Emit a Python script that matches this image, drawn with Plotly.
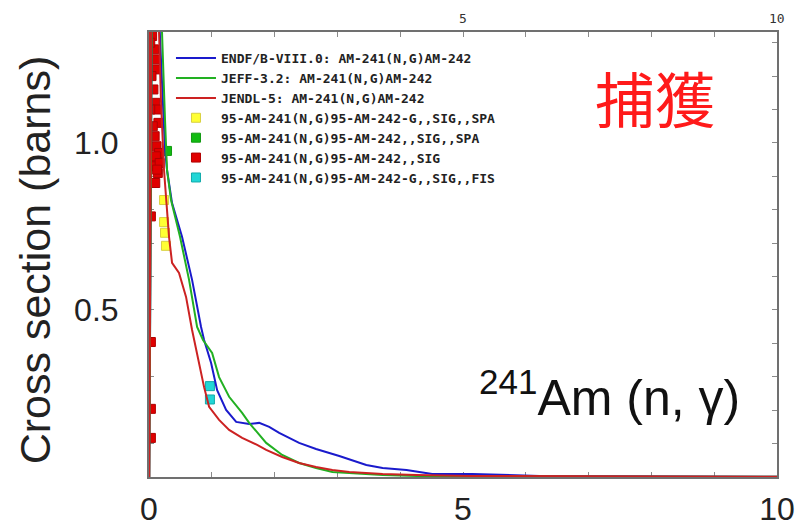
import plotly.graph_objects as go

# Evaluated capture cross sections, Am-241(n,g): incident energy (MeV) vs barns
endf_e = [0.0, 0.004, 0.008, 0.06, 0.12, 0.175, 0.22, 0.255, 0.287, 0.367,
          0.526, 0.686, 0.829, 0.877, 0.989, 1.085, 1.228, 1.388, 1.595, 1.754,
          1.914, 2.073, 2.39, 2.66, 3.03, 3.46, 3.72, 4.10, 4.51, 5.15,
          6.22, 10.0]
endf_xs = [3.0, 0.0, 2.6, 1.9, 1.55, 1.332, 1.13, 0.98, 0.919, 0.820,
           0.719, 0.590, 0.449, 0.410, 0.341, 0.260, 0.201, 0.165, 0.159, 0.162,
           0.150, 0.132, 0.102, 0.084, 0.063, 0.036, 0.027, 0.021, 0.009, 0.009,
           0.003, 0.001]

jeff_e = [0.0, 0.004, 0.008, 0.06, 0.14, 0.207, 0.255, 0.287, 0.351, 0.494,
          0.638, 0.766, 0.86, 1.005, 1.116, 1.276, 1.483, 1.595, 1.866, 2.121,
          2.39, 2.66, 2.92, 3.72, 4.26, 5.0, 10.0]
jeff_xs = [3.0, 0.0, 2.6, 1.9, 1.55, 1.332, 1.069, 0.919, 0.829, 0.719,
           0.590, 0.449, 0.41, 0.371, 0.299, 0.240, 0.192, 0.162, 0.102, 0.066,
           0.042, 0.027, 0.015, 0.006, 0.003, 0.002, 0.001]

jendl_e = [0.0, 0.004, 0.008, 0.05, 0.10, 0.16, 0.19, 0.239, 0.319, 0.367,
           0.478, 0.590, 0.686, 0.718, 0.797, 0.877, 0.957, 1.116, 1.276, 1.483,
           1.722, 1.866, 2.121, 2.39, 2.66, 2.92, 3.19, 3.72, 4.26, 5.10,
           10.0]
jendl_xs = [3.0, 0.0, 2.6, 1.9, 1.55, 1.332, 1.13, 0.919, 0.719, 0.641,
            0.611, 0.539, 0.440, 0.410, 0.341, 0.269, 0.210, 0.171, 0.141, 0.117,
            0.096, 0.081, 0.060, 0.042, 0.030, 0.021, 0.015, 0.009, 0.006, 0.003,
            0.001]

# Experimental points (EXFOR)
spa_g_e = [0.24, 0.24, 0.255, 0.27]
spa_g_xs = [0.829, 0.763, 0.731, 0.692]

spa_e = [0.287]
spa_xs = [0.976]

sig_e = [0.03, 0.05, 0.08, 0.10, 0.12, 0.04, 0.07, 0.10, 0.13, 0.15,
         0.06, 0.09, 0.12, 0.16, 0.05, 0.08, 0.11, 0.14, 0.17, 0.10,
         0.13, 0.03, 0.03, 0.03, 0.03, 0.02, 0.06, 0.02]
sig_xs = [1.40, 1.32, 1.28, 1.25, 1.22, 1.20, 1.16, 1.12, 1.10, 1.06,
          1.05, 1.02, 0.99, 0.97, 0.95, 0.93, 0.96, 0.91, 0.94, 0.88,
          0.92, 0.78, 0.404, 0.204, 0.117, 1.30, 1.36, 1.10]

fis_e = [0.97, 0.97]
fis_xs = [0.272, 0.232]

lib_names = ["ENDF/B-VIII.0: AM-241(N,G)AM-242",
             "JEFF-3.2: AM-241(N,G)AM-242",
             "JENDL-5: AM-241(N,G)AM-242"]
exp_names = ["95-AM-241(N,G)95-AM-242-G,,SIG,,SPA",
             "95-AM-241(N,G)95-AM-242,,SIG,,SPA",
             "95-AM-241(N,G)95-AM-242,,SIG",
             "95-AM-241(N,G)95-AM-242-G,,SIG,,FIS"]

x_tick_vals = [0, 5, 10]
x_tick_text = ["0", "5", "10"]
y_tick_vals = [0.5, 1.0]
y_tick_text = ["0.5", "1.0"]
top_ticks = [5, 10]

fig = go.Figure()

# experimental markers (drawn beneath the evaluated curves)
fig.add_trace(go.Scatter(x=spa_g_e, y=spa_g_xs, mode="markers", name=exp_names[0],
                         marker=dict(symbol="square", size=9, color="#ffff33",
                                     line=dict(color="#d8d040", width=1)),
                         legendrank=4))
fig.add_trace(go.Scatter(x=spa_e, y=spa_xs, mode="markers", name=exp_names[1],
                         marker=dict(symbol="square", size=9, color="#11bb11",
                                     line=dict(color="#119911", width=1)),
                         legendrank=5))
fig.add_trace(go.Scatter(x=sig_e, y=sig_xs, mode="markers", name=exp_names[2],
                         marker=dict(symbol="square", size=9, color="#e00000",
                                     line=dict(color="#b00000", width=1)),
                         legendrank=6))
fig.add_trace(go.Scatter(x=fis_e, y=fis_xs, mode="markers", name=exp_names[3],
                         marker=dict(symbol="square", size=9, color="#22d6d6",
                                     line=dict(color="#11aaaa", width=1)),
                         legendrank=7))

# evaluated libraries
fig.add_trace(go.Scatter(x=endf_e, y=endf_xs, mode="lines", name=lib_names[0],
                         line=dict(color="#1a1acc", width=2), legendrank=1))
fig.add_trace(go.Scatter(x=jeff_e, y=jeff_xs, mode="lines", name=lib_names[1],
                         line=dict(color="#22b022", width=2), legendrank=2))
fig.add_trace(go.Scatter(x=jendl_e, y=jendl_xs, mode="lines", name=lib_names[2],
                         line=dict(color="#cc2222", width=2), legendrank=3))

axis_common = dict(showline=True, linecolor="#707070", linewidth=2, mirror="ticks",
                   ticks="inside", ticklen=5, tickcolor="#8a8a8a", tickwidth=1,
                   showgrid=False, zeroline=False, layer="below traces",
                   automargin=False, tickmode="array",
                   tickfont=dict(family="Liberation Sans, Arial", size=32, color="#222222"))

fig.update_xaxes(range=[0, 10], tickvals=x_tick_vals, ticktext=x_tick_text,
                 ticklabelstandoff=3,
                 minor=dict(tickmode="linear", tick0=0, dtick=1, ticks="inside",
                            ticklen=5, tickcolor="#8a8a8a", tickwidth=1, showgrid=False),
                 **axis_common)
fig.update_yaxes(range=[0, 1.332], tickvals=y_tick_vals, ticktext=y_tick_text,
                 ticklabelstandoff=22,
                 minor=dict(tickmode="linear", tick0=0, dtick=0.1, ticks="inside",
                            ticklen=5, tickcolor="#8a8a8a", tickwidth=1, showgrid=False),
                 **axis_common)

annotations = [
    dict(text="Cross section (barns)", xref="paper", yref="paper", x=-0.1815, y=0.487,
         textangle=-90, showarrow=False, xanchor="center", yanchor="middle",
         font=dict(family="Liberation Sans, Arial", size=43, color="#222222")),
    dict(text="捕獲", xref="paper", yref="paper", x=0.806, y=0.856, showarrow=False,
         xanchor="center", yanchor="middle",
         font=dict(family="Noto Sans CJK JP", size=60, color="#ff1a1a")),
    dict(text="<sup>241</sup>Am (n, γ)", xref="paper", yref="paper", x=0.734, y=0.186,
         showarrow=False, xanchor="center", yanchor="middle",
         font=dict(family="Liberation Sans, Arial", size=50, color="#111111")),
]
for v in top_ticks:
    annotations.append(dict(text=str(v), xref="x", yref="paper", x=v, y=1.0,
                            yanchor="bottom", yshift=4, showarrow=False,
                            font=dict(family="DejaVu Sans Mono", size=13, color="#333333")))

fig.update_layout(
    width=800, height=530,
    margin=dict(l=149, r=23, t=32, b=53, autoexpand=False),
    paper_bgcolor="white", plot_bgcolor="white",
    showlegend=True,
    legend=dict(x=0.035, y=0.975, xanchor="left", yanchor="top",
                bgcolor="rgba(0,0,0,0)", itemwidth=40,
                font=dict(family="DejaVu Sans Mono", size=13, color="#222222",
                          weight="bold")),
    annotations=annotations,
)

fig.write_html("out.html")
